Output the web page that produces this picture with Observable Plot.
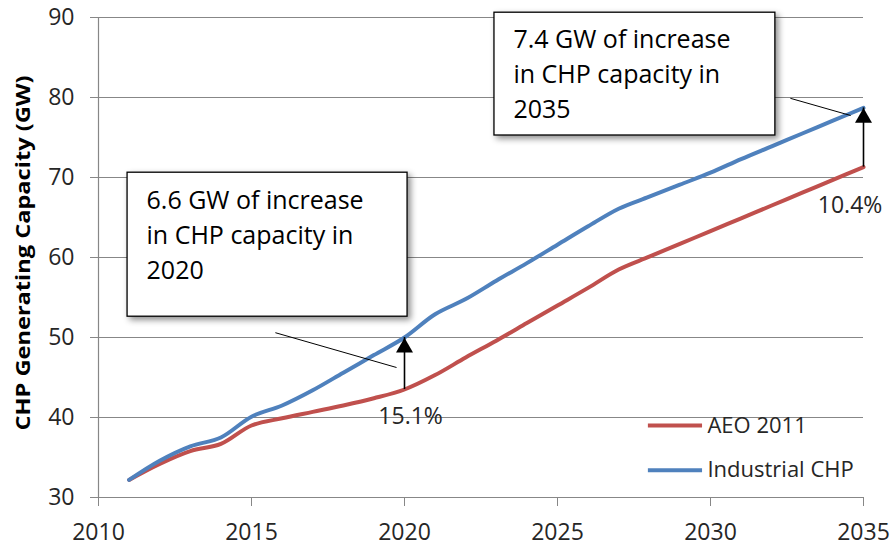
<!DOCTYPE html>
<html><head><meta charset="utf-8">
<script src="https://cdn.jsdelivr.net/npm/d3@7"></script>
<script src="https://cdn.jsdelivr.net/npm/@observablehq/plot@0.6"></script>
<style>
html,body{margin:0;padding:0;background:#fff}
#chart{width:891px;height:546px}
</style>
</head><body><div id="chart"></div>
<script>
// ---- data ----
const years = [2011,2012,2013,2014,2015,2016,2017,2018,2019,2020,2021,2022,2023,2024,2025,2026,2027,2028,2029,2030,2031,2032,2033,2034,2035];
const aeo2011 = [32.2,34.2,35.8,36.7,39.0,39.9,40.7,41.5,42.4,43.5,45.3,47.5,49.6,51.8,54.0,56.2,58.5,60.1,61.7,63.3,64.9,66.5,68.1,69.7,71.3];
const industrialCHP = [32.2,34.6,36.4,37.5,40.1,41.5,43.4,45.6,47.8,50.0,52.9,54.8,57.1,59.3,61.6,63.9,66.1,67.6,69.1,70.6,72.3,73.9,75.5,77.1,78.7];
const seriesNames = ["AEO 2011", "Industrial CHP"];
const xTicks = [2010, 2015, 2020, 2025, 2030, 2035];
const yTicks = [30, 40, 50, 60, 70, 80, 90];
const yTitle = "CHP Generating Capacity (GW)";
const calloutYears = [2020, 2035];
const calloutTexts = ["6.6 GW of increase\nin CHP capacity in\n2020", "7.4 GW of increase\nin CHP capacity in\n2035"];
const calloutPcts = ["15.1%", "10.4%"];

// ---- layout / style (not data) ----
const colors = ["#C0504D", "#4F81BD"];
const gridColor = "#878787";
const textColor = "#262626";
const font = "'Open Sans', sans-serif";

const rows = [];
seriesNames.forEach((s, i) => {
  const vals = i === 0 ? aeo2011 : industrialCHP;
  years.forEach((y, j) => rows.push({series: s, year: y, value: vals[j]}));
});

const callouts = calloutYears.map((yr, i) => {
  const j = years.indexOf(yr);
  return {year: yr, low: aeo2011[j], high: industrialCHP[j], text: calloutTexts[i], pct: calloutPcts[i]};
});
// annotation placement (data coordinates)
const boxPos = [
  {x1: 2010.95, x2: 2020.1, y1: 52.6, y2: 70.6, tx: 2011.57, ty: 69.15, lx1: 2015.78, ly1: 50.6, lx2: 2019.74, ly2: 46.25, px: 2020.2, py: 40.05},
  {x1: 2022.94, x2: 2032.12, y1: 75.25, y2: 90.6, tx: 2023.56, ty: 89.35, lx1: 2032.61, ly1: 79.9, lx2: 2034.58, ly2: 77.75, px: 2034.56, py: 66.5}
];
const boxes = callouts.map((c, i) => ({...c, ...boxPos[i]}));

const legendPos = {x1: 2027.97, x2: 2029.74, tx: 2029.9, ys: [39.0, 33.4]};
const legend = seriesNames.map((s, i) => ({series: s, y: legendPos.ys[i], x1: legendPos.x1, x2: legendPos.x2, tx: legendPos.tx}));

const chart = Plot.plot({
  width: 891,
  height: 546,
  marginLeft: 98,
  marginRight: 28,
  marginTop: 17,
  marginBottom: 49,
  style: {fontFamily: font, background: "#fff", overflow: "visible"},
  x: {domain: [2010, 2035]},
  y: {domain: [30, 90]},
  color: {domain: seriesNames, range: colors},
  marks: [
    Plot.gridY(yTicks, {stroke: gridColor, strokeOpacity: 1, strokeWidth: 1.2}),
    Plot.ruleX([2010], {stroke: gridColor, strokeWidth: 1.2}),
    Plot.axisY({ticks: yTicks, tickSize: 8, tickPadding: 16, fontSize: 23, stroke: gridColor, fill: textColor, label: null, tickFormat: d => String(d)}),
    Plot.axisX({ticks: xTicks, tickSize: 9, tickPadding: 17, fontSize: 23, stroke: gridColor, fill: textColor, label: null, tickFormat: d => String(d)}),
    Plot.line(rows, {x: "year", y: "value", z: "series", stroke: "series", strokeWidth: 4, curve: "catmull-rom"}),
    Plot.link(boxes, {x1: "lx1", y1: "ly1", x2: "lx2", y2: "ly2", stroke: "#000", strokeWidth: 1}),
    Plot.ruleX(boxes, {x: "year", y1: "low", y2: "high", stroke: "#000", strokeWidth: 1.6}),
    Plot.dot(boxes, {x: "year", y: "high", symbol: "triangle", r: 6.3, fill: "#000", stroke: "none", dy: 10}),
    Plot.rect(boxes, {x1: "x1", x2: "x2", y1: "y1", y2: "y2", fill: "#fff", stroke: "#000", strokeWidth: 1.3}),
    Plot.text(boxes, {x: "tx", y: "ty", text: "text", textAnchor: "start", lineAnchor: "top", lineHeight: 1.4, fontSize: 25, fill: "#000"}),
    Plot.text(boxes, {x: "px", y: "py", text: "pct", fontSize: 23, fill: textColor}),
    Plot.ruleY(legend, {y: "y", x1: "x1", x2: "x2", stroke: "series", strokeWidth: 4}),
    Plot.text(legend, {x: "tx", y: "y", text: "series", textAnchor: "start", fontSize: 22, fill: textColor})
  ]
});

document.getElementById("chart").appendChild(chart);
const svg = d3.select(chart);
svg.selectAll("g[aria-label=rect] rect").style("filter", "drop-shadow(3px 3px 3px rgba(0,0,0,0.45))");
svg.append("text")
  .attr("transform", "translate(29.5,253) rotate(-90)")
  .attr("text-anchor", "middle")
  .attr("font-family", font)
  .attr("font-weight", "bold")
  .attr("font-size", 19)
  .attr("fill", "#000")
  .attr("textLength", 355)
  .attr("lengthAdjust", "spacingAndGlyphs")
  .text(yTitle);
</script>
</body></html>
